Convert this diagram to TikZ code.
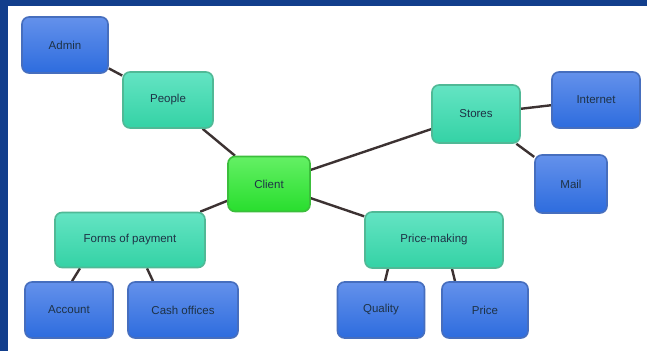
\documentclass[tikz,border=0pt]{standalone}
\usepackage{fontspec}
\setmainfont{Liberation Sans}
\usetikzlibrary{calc,backgrounds}
\definecolor{bgblue}{RGB}{18,62,140}
\definecolor{bluetop}{RGB}{100,145,235}
\definecolor{bluebot}{RGB}{45,108,222}
\definecolor{blueedge}{RGB}{70,110,190}
\definecolor{tealtop}{RGB}{100,228,195}
\definecolor{tealbot}{RGB}{52,210,165}
\definecolor{tealedge}{RGB}{80,185,150}
\definecolor{greentop}{RGB}{100,240,100}
\definecolor{greenbot}{RGB}{40,222,45}
\definecolor{greenedge}{RGB}{60,190,60}
\definecolor{linkcol}{RGB}{60,50,50}
\definecolor{textcol}{RGB}{30,50,70}
\pgfdeclarelayer{bottom}
\pgfsetlayers{bottom,background,main}
\tikzset{
  box/.style={rounded corners=7pt, line width=1.6pt, inner sep=0pt,
    font=\fontsize{11.5}{13}\selectfont, text=textcol},
  bluebox/.style={box, draw=blueedge, top color=bluetop, bottom color=bluebot},
  tealbox/.style={box, draw=tealedge, top color=tealtop, bottom color=tealbot},
  greenbox/.style={box, draw=greenedge, top color=greentop, bottom color=greenbot},
  link/.style={draw=linkcol, line width=2.4pt}
}
\begin{document}
\begin{tikzpicture}[x=1pt,y=-1pt]
\useasboundingbox (0,0) rectangle (647,351);
\begin{pgfonlayer}{bottom}
\fill[bgblue] (0,0) rectangle (647,351);
\fill[white] (8,6) rectangle (647,351);
\end{pgfonlayer}
% nodes
\node[greenbox, minimum width=82pt, minimum height=55pt] (client) at (269,184) {Client};
\node[tealbox, minimum width=90pt, minimum height=56pt] (people) at (168,100) {People};
\node[bluebox, minimum width=86pt, minimum height=56pt] (admin) at (65,45) {Admin};
\node[tealbox, minimum width=88pt, minimum height=58pt] (stores) at (476,114) {Stores};
\node[bluebox, minimum width=88pt, minimum height=56pt] (internet) at (596,100) {Internet};
\node[bluebox, minimum width=72pt, minimum height=58pt] (mail) at (571,184) {Mail};
\node[tealbox, minimum width=150pt, minimum height=55pt] (forms) at (130,240) {Forms of payment};
\node[bluebox, minimum width=88pt, minimum height=56pt] (account) at (69,310) {Account};
\node[bluebox, minimum width=110pt, minimum height=56pt] (cash) at (183,310) {Cash offices};
\node[tealbox, minimum width=138pt, minimum height=56pt] (pricing) at (434,240) {Price-making};
\node[bluebox, minimum width=87pt, minimum height=56pt] (quality) at (381,310) {Quality};
\node[bluebox, minimum width=86pt, minimum height=56pt] (price) at (485,310) {Price};
% links
\begin{pgfonlayer}{background}
\path[link] (admin) -- (people);
\path[link] (people) -- (client);
\path[link] (client) -- (stores);
\path[link] (stores) -- (internet);
\path[link] (stores) -- (mail);
\path[link] (client) -- (forms);
\path[link] (client) -- (pricing);
\path[link] ($(account.north)+(3,0)$) -- ($(forms.south)+(-50,0)$);
\path[link] ($(cash.north)+(-30,0)$) -- ($(forms.south)+(17,0)$);
\path[link] ($(quality.north)+(4,0)$) -- ($(pricing.south)+(-46,0)$);
\path[link] ($(price.north)+(-30,0)$) -- ($(pricing.south)+(18,0)$);
\end{pgfonlayer}
\end{tikzpicture}
\end{document}
